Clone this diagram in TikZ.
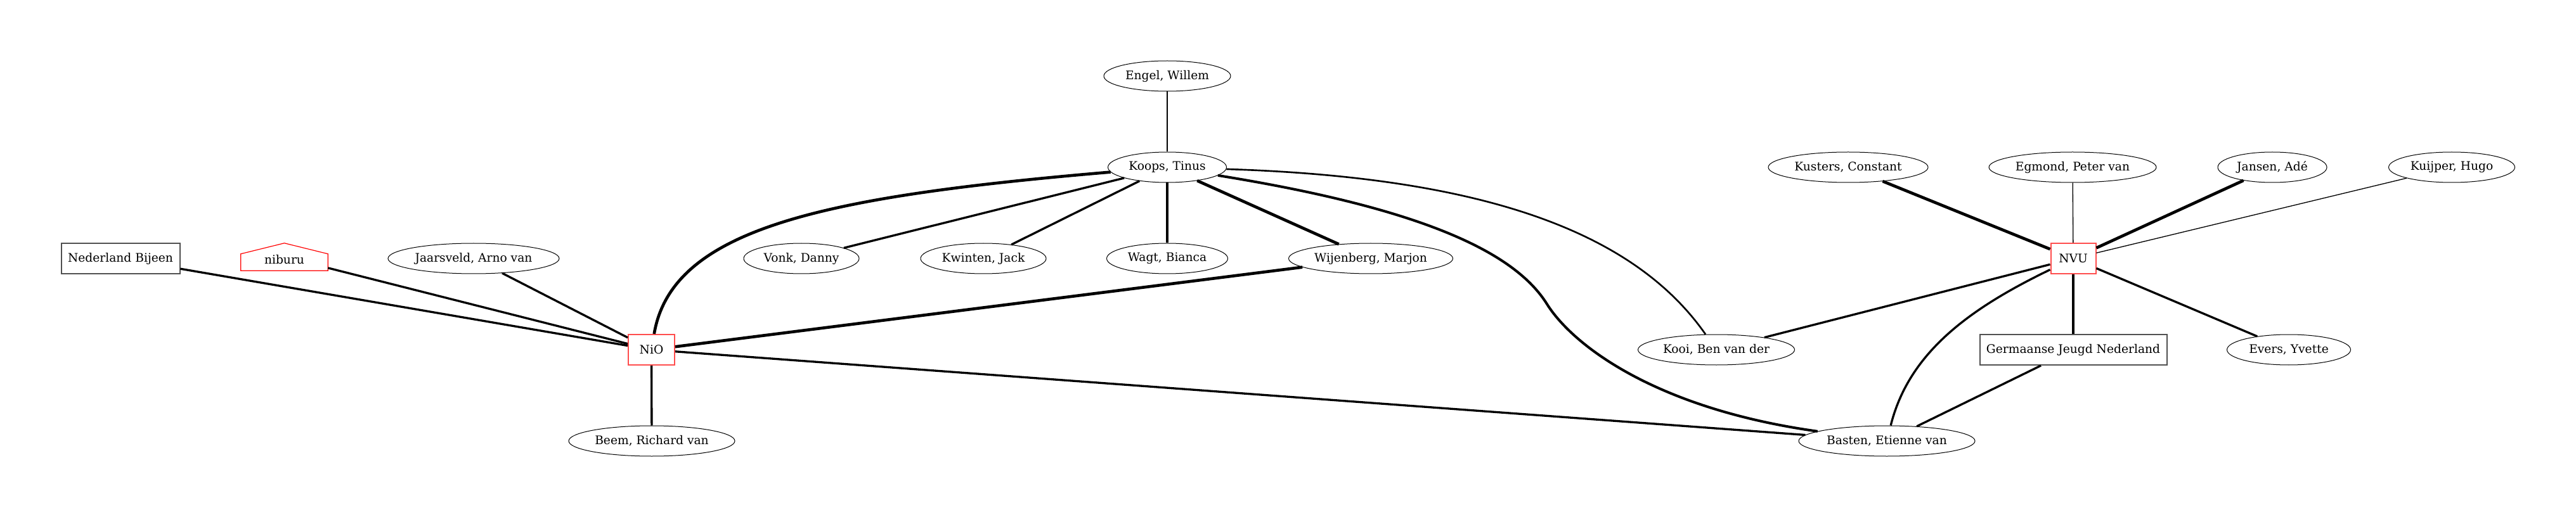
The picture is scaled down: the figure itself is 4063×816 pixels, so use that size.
\documentclass[tikz,border=0pt]{standalone}
\usepackage{fontspec}
\setmainfont{DejaVu Serif}
\usetikzlibrary{shapes.geometric,calc}
\definecolor{boxred}{RGB}{255,77,77}
\definecolor{boxgray}{RGB}{80,80,80}
\begin{document}
\begin{tikzpicture}[x=0.75pt,y=-0.75pt,
  every node/.style={font=\fontsize{14}{17}\selectfont, inner sep=0pt},
  ell/.style={ellipse, draw=black, line width=0.75pt, minimum height=36pt},
  orgred/.style={rectangle, draw=boxred, line width=1.5pt, minimum height=36pt},
  orggray/.style={rectangle, draw=boxgray, line width=1.5pt, minimum height=36pt},
  housenode/.style={rectangle, draw=none, minimum width=102.75pt, minimum height=32.25pt},
  ethin/.style={line width=1pt},
  etwo/.style={line width=2pt},
  emid/.style={line width=2.5pt},
  ethick/.style={line width=3.5pt}]
\useasboundingbox (0,0) rectangle (4063,816);
% nodes
\node[orggray, minimum width=140.25pt] (nb) at (190,408) {Nederland Bijeen};
\node[housenode] (niburu) at (448.5,405.5) {};
\node at (448.5,410) {niburu};
\draw[red, line width=0.9pt] (niburu.south west) -- (niburu.south east)
  -- ($(niburu.north east)+(0,17)$) -- (niburu.north) -- ($(niburu.north west)+(0,17)$) -- cycle;
\node[ell, minimum width=202.5pt] (jaars) at (747,408) {Jaarsveld, Arno van};
\node[orgred, minimum width=54.75pt] (nio) at (1027.5,552) {NiO};
\node[ell, minimum width=196.5pt] (beem) at (1028,696) {Beem, Richard van};
\node[ell, minimum width=150pt] (engel) at (1841,120) {Engel, Willem};
\node[ell, minimum width=140.25pt] (koops) at (1841,264) {Koops, Tinus};
\node[ell, minimum width=136.5pt] (vonk) at (1264,408) {Vonk, Danny};
\node[ell, minimum width=148.5pt] (kwinten) at (1551,408) {Kwinten, Jack};
\node[ell, minimum width=143.25pt] (wagt) at (1841,408) {Wagt, Bianca};
\node[ell, minimum width=194.25pt] (wijen) at (2162,408) {Wijenberg, Marjon};
\node[ell, minimum width=189pt] (kusters) at (2915,264) {Kusters, Constant};
\node[ell, minimum width=198pt] (egmond) at (3269,264) {Egmond, Peter van};
\node[ell, minimum width=129pt] (jansen) at (3584,264) {Jansen, Adé};
\node[ell, minimum width=149.25pt] (kuijper) at (3867,264) {Kuijper, Hugo};
\node[orgred, minimum width=53.25pt] (nvu) at (3270,408) {NVU};
\node[ell, minimum width=185.25pt] (kooi) at (2707,552) {Kooi, Ben van der};
\node[orggray, minimum width=221.25pt] (germ) at (3270,552) {Germaanse Jeugd Nederland};
\node[ell, minimum width=146.25pt] (evers) at (3610,552) {Evers, Yvette};
\node[ell, minimum width=208.5pt] (basten) at (2976,696) {Basten, Etienne van};
\coordinate (kbmid) at (2440,480);
% edges NiO
\draw[emid] (nb) -- (nio);
\draw[emid] (niburu) -- (nio);
\draw[emid] (jaars) -- (nio);
\draw[ethick] (koops) .. controls (1300,310) and (1060,360) .. (nio);
\draw[ethick] (wijen) -- (nio);
\draw[emid] (nio) -- (beem);
\draw[emid] (nio) -- (basten);
% edges Koops
\draw[etwo] (engel) -- (koops);
\draw[emid] (koops) -- (vonk);
\draw[emid] (koops) -- (kwinten);
\draw[emid] (koops) -- (wagt);
\draw[ethick] (koops) -- (wijen);
\draw[line width=3pt] (koops) .. controls (2250,330) and (2390,400) .. (kbmid)
  .. controls (2480,544) and (2610,645) .. (basten);
\draw[etwo] (koops) .. controls (2350,280) and (2580,370) .. (kooi);
% edges NVU
\draw[ethick] (kusters) -- (nvu);
\draw[ethin] (egmond) -- (nvu);
\draw[ethick] (jansen) -- (nvu);
\draw[ethin] (kuijper) -- (nvu);
\draw[emid] (nvu) -- (kooi);
\draw[emid] (nvu) .. controls (3100,490) and (3010,560) .. (basten);
\draw[ethick] (nvu) -- (germ);
\draw[emid] (nvu) -- (evers);
\draw[emid] (germ) -- (basten);
\end{tikzpicture}
\end{document}
